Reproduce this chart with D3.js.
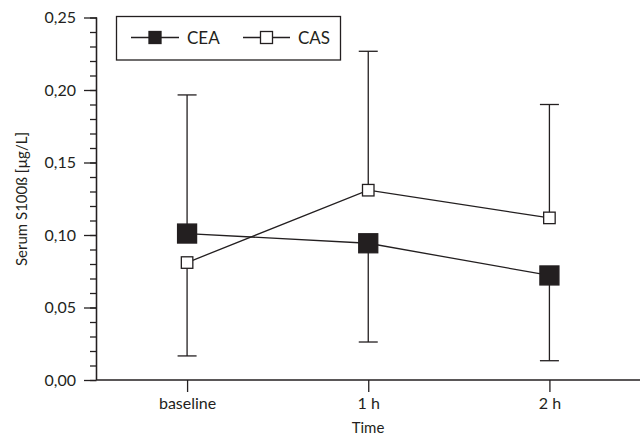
<!DOCTYPE html>
<html><head><meta charset="utf-8">
<script src="https://cdn.jsdelivr.net/npm/d3@7"></script>
<style>body{margin:0;background:#fff}svg{display:block}text{font-family:Lato,"Open Sans",sans-serif;fill:#231f20}</style>
</head><body><svg id="c" width="641" height="438"></svg>
<script>
const categories = ["baseline", "1 h", "2 h"];
const ceaMean = [0.101, 0.0943, 0.0721];
const ceaSD   = [0.0956, 0.0681, 0.0588];
const casMean = [0.081, 0.1309, 0.1118];
const casSD   = [0.0644, 0.0958, 0.0782];
const yTicks = [0, 0.05, 0.10, 0.15, 0.20, 0.25];
const yMinorTicks = d3.range(0, 26).map(i => i / 100);
const seriesNames = ["CEA", "CAS"];

const ink = "#231f20";
const svg = d3.select("#c");
const x = d3.scalePoint().domain(categories).range([96.5, 640]).padding(0.5);
const y = d3.scaleLinear().domain([0, 0.25]).range([380, 17.5]);
const fmt = d => d3.format(".2f")(d).replace(".", ",");

// y axis
const gy = svg.append("g").attr("transform", "translate(96.5,0)");
gy.call(d3.axisLeft(y).tickValues(yMinorTicks).tickSize(6.5).tickFormat(""));
gy.call(g => {});
const gy2 = svg.append("g").attr("transform", "translate(96.5,0)");
gy2.call(d3.axisLeft(y).tickValues(yTicks).tickSize(12.5).tickPadding(8).tickFormat(fmt));
[gy, gy2].forEach(g => {
  g.selectAll("line").attr("stroke", ink).attr("stroke-width", 1.3);
  g.select(".domain").attr("stroke", ink).attr("stroke-width", 1.3).attr("d", `M0,${y(0.25)}V${y(0)}`);
  g.selectAll("text").style("font-size", "16px").attr("font-family", null);
});
gy.selectAll("text").remove();

// x axis
const gx = svg.append("g").attr("transform", "translate(0,380)");
gx.call(d3.axisBottom(x).tickSize(12).tickPadding(6));
gx.select(".domain").attr("stroke", ink).attr("stroke-width", 1.3).attr("d", "M96.5,0H640");
gx.selectAll("line").attr("stroke", ink).attr("stroke-width", 1.3);
gx.selectAll("text").style("font-size", "16px").attr("font-family", null);

// axis titles
svg.append("text").attr("x", 368).attr("y", 433).attr("text-anchor", "middle")
  .style("font-size", "15px").text("Time");
svg.append("text").attr("transform", "translate(27,199) rotate(-90)").attr("text-anchor", "middle")
  .style("font-size", "15px").text("Serum S100ß [µg/L]");

const series = [
  {name: seriesNames[0], mean: ceaMean, sd: ceaSD, fill: ink, size: 19},
  {name: seriesNames[1], mean: casMean, sd: casSD, fill: "#fff", size: 11.5}
];
const line = d3.line().x((d, i) => x(categories[i])).y(d => y(d));

// connecting lines
series.forEach(s => {
  svg.append("path").attr("d", line(s.mean)).attr("fill", "none")
    .attr("stroke", ink).attr("stroke-width", 1.3);
});
// error bars: the higher series at each time shows the upper whisker, the lower one the lower whisker
series.forEach((s, si) => {
  const other = series[1 - si];
  s.mean.forEach((m, i) => {
    const up = m >= other.mean[i];
    const end = up ? m + s.sd[i] : m - s.sd[i];
    const cx = x(categories[i]);
    svg.append("line").attr("x1", cx).attr("x2", cx).attr("y1", y(m)).attr("y2", y(end))
      .attr("stroke", ink).attr("stroke-width", 1.3);
    svg.append("line").attr("x1", cx - 9.5).attr("x2", cx + 9.5).attr("y1", y(end)).attr("y2", y(end))
      .attr("stroke", ink).attr("stroke-width", 1.3);
  });
});
// markers
series.forEach(s => {
  s.mean.forEach((m, i) => {
    svg.append("rect").attr("x", x(categories[i]) - s.size / 2).attr("y", y(m) - s.size / 2)
      .attr("width", s.size).attr("height", s.size).attr("fill", s.fill)
      .attr("stroke", ink).attr("stroke-width", 1.3);
  });
});

// legend
const lg = svg.append("g");
lg.append("rect").attr("x", 116.5).attr("y", 16.5).attr("width", 224).attr("height", 43.5)
  .attr("fill", "#fff").attr("stroke", ink).attr("stroke-width", 1.3);
const legPos = [{x0: 131, x1: 179, tx: 187}, {x0: 243, x1: 290, tx: 298}];
series.forEach((s, i) => {
  const p = legPos[i], cy = 37.5, cx = (p.x0 + p.x1) / 2;
  lg.append("line").attr("x1", p.x0).attr("x2", p.x1).attr("y1", cy).attr("y2", cy)
    .attr("stroke", ink).attr("stroke-width", 1.3);
  lg.append("rect").attr("x", cx - 6).attr("y", cy - 6).attr("width", 12).attr("height", 12)
    .attr("fill", s.fill).attr("stroke", ink).attr("stroke-width", 1.3);
  lg.append("text").attr("x", p.tx).attr("y", cy).attr("dy", "0.36em")
    .style("font-size", "17px").text(s.name);
});
</script></body></html>
